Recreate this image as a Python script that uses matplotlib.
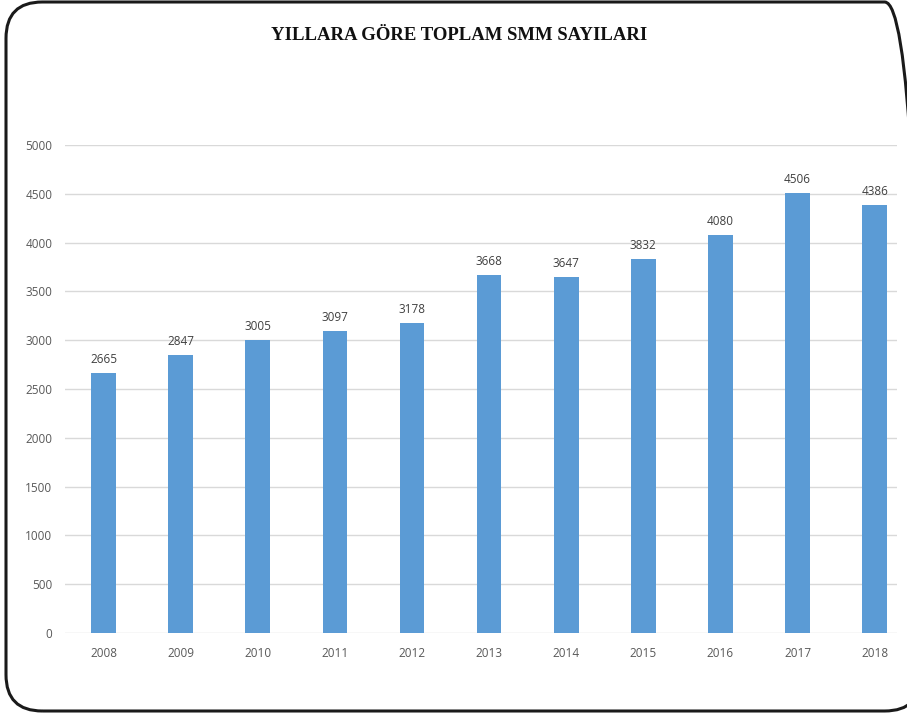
import matplotlib.pyplot as plt
from matplotlib.patches import FancyBboxPatch

years = ["2008", "2009", "2010", "2011", "2012", "2013", "2014", "2015", "2016", "2017", "2018"]
counts = [2665, 2847, 3005, 3097, 3178, 3668, 3647, 3832, 4080, 4506, 4386]
yticks = [0, 500, 1000, 1500, 2000, 2500, 3000, 3500, 4000, 4500, 5000]

W, H = 907, 714
fig = plt.figure(figsize=(W / 100, H / 100), dpi=100)

# rounded frame around the whole chart (runs past the right edge like the source)
frame = FancyBboxPatch((6 / W, 3 / H), 915 / W, 709 / H,
                       boxstyle="round,pad=0,rounding_size=0.04",
                       transform=fig.transFigure, fill=False,
                       edgecolor="#1a1a1a", linewidth=2.2,
                       mutation_aspect=W / H)
fig.patches.append(frame)

ax = fig.add_axes([65 / W, 81 / H, 832 / W, 488 / H])
x = list(range(len(years)))
bars = ax.bar(x, counts, width=0.32, color="#5B9BD5", zorder=3)

for b, v in zip(bars, counts):
    ax.annotate(str(v), (b.get_x() + b.get_width() / 2, v), xytext=(0, 5),
                textcoords="offset points", ha="center", va="bottom",
                fontsize=8.5, color="#404040", family="Open Sans")

ax.set_xlim(-0.5, 10.29)
ax.set_ylim(0, 5000)
ax.set_yticks(yticks)
ax.set_xticks(x)
ax.set_xticklabels(years)
ax.grid(axis="y", color="#D9D9D9", linewidth=1, zorder=0)
for s in ax.spines.values():
    s.set_visible(False)
ax.tick_params(length=0, labelsize=8.5, labelcolor="#595959", pad=10)
for lab in ax.get_xticklabels() + ax.get_yticklabels():
    lab.set_family("Open Sans")
ax.tick_params(axis="y", pad=9)

fig.text(459 / W, 1 - 36 / H, "YILLARA GÖRE TOPLAM SMM SAYILARI",
         ha="center", va="center", fontsize=13.5, fontweight="bold",
         family="Liberation Serif", color="#111111")

fig.savefig("out.png", dpi=100)
